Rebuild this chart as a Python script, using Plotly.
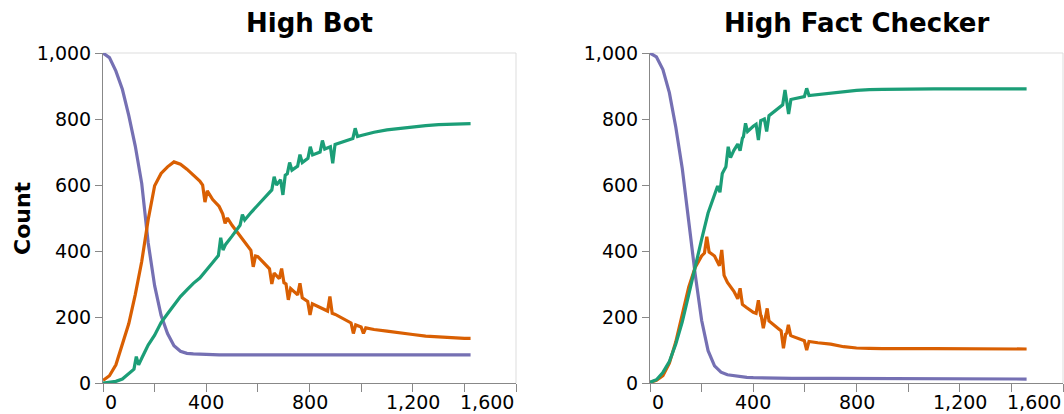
import plotly.graph_objects as go

# ---- High Bot run ----
bot_purple_t = [0, 25, 50, 75, 100, 125, 150, 175, 200, 225, 250, 275, 300, 325, 350, 375, 400,
                450, 500, 600, 700, 800, 900, 1000, 1100, 1200, 1300, 1424]
bot_purple = [1000, 986, 945, 890, 810, 718, 605, 425, 295, 205, 150, 113, 96, 90, 88, 87, 86,
              85, 85, 85, 85, 85, 85, 85, 85, 85, 85, 85]

bot_orange_t = [0, 25, 50, 75, 100, 125, 150, 175, 200, 225, 250, 275, 300, 325, 350, 375,
                386, 395, 404, 425, 450, 464, 473, 482, 500, 550, 573, 582, 591, 600, 645,
                654, 663, 683, 692, 701, 709, 718, 727, 750, 754, 763, 772, 793, 802, 811,
                850, 870, 879, 888, 900, 950, 961, 970, 979, 1000, 1009, 1018, 1050,
                1100, 1150, 1200, 1250, 1300, 1350, 1400, 1424]
bot_orange = [8, 22, 55, 118, 180, 268, 368, 495, 598, 635, 655, 670, 663, 648, 630, 612,
              600, 548, 582, 556, 535, 512, 484, 500, 478, 428, 402, 352, 385, 383, 346,
              300, 333, 316, 347, 304, 300, 252, 286, 270, 267, 302, 258, 247, 206, 240,
              225, 218, 262, 211, 208, 185, 182, 150, 176, 170, 150, 167, 162,
              157, 153, 147, 142, 139, 137, 135, 135]

bot_green_t = [0, 25, 50, 75, 100, 120, 129, 138, 150, 175, 200, 225, 250, 275, 300, 325,
               350, 375, 400, 425, 447, 456, 465, 475, 500, 531, 540, 549, 575, 600, 650,
               654, 663, 672, 688, 697, 706, 714, 723, 732, 750, 754, 763, 772, 794, 803,
               812, 841, 850, 859, 881, 890, 899, 950, 968, 977, 986, 1000, 1050, 1100,
               1150, 1200, 1250, 1300, 1350, 1400, 1424]
bot_green = [0, 2, 5, 12, 28, 42, 80, 55, 75, 115, 145, 183, 210, 235, 262, 282,
             302, 318, 340, 365, 386, 440, 403, 420, 445, 478, 510, 494, 518, 540, 582,
             585, 625, 600, 616, 570, 630, 634, 668, 645, 655, 657, 692, 668, 681, 716,
             691, 700, 735, 709, 716, 666, 723, 738, 741, 772, 747, 750, 760, 767,
             772, 777, 780, 783, 785, 786, 786]

# ---- High Fact Checker run ----
fc_purple_t = [0, 25, 50, 75, 100, 125, 150, 175, 200, 225, 250, 275, 300, 325, 350, 375, 400,
               450, 550, 700, 900, 1100, 1300, 1459]
fc_purple = [1000, 988, 950, 880, 775, 650, 490, 330, 190, 98, 52, 33, 25, 22, 19, 17, 16,
             15, 14, 14, 13, 13, 12, 12]

fc_orange_t = [0, 25, 50, 75, 100, 125, 150, 175, 200, 211, 220, 229, 250, 269, 278, 287,
               300, 325, 340, 349, 358, 375, 400, 411, 420, 429, 431, 439, 446, 447, 454,
               461, 475, 500, 508, 517, 526, 529, 536, 545, 550, 598, 607, 616, 650, 700,
               750, 800, 850, 900, 1100, 1300, 1459]
fc_orange = [2, 8, 22, 60, 125, 205, 290, 350, 385, 394, 443, 397, 385, 355, 403, 326,
             305, 278, 255, 287, 238, 228, 214, 211, 251, 204, 203, 166, 196, 195, 226,
             188, 178, 163, 158, 105, 151, 148, 176, 144, 142, 128, 100, 126, 122, 118,
             110, 106, 105, 104, 104, 103, 103]

fc_green_t = [0, 25, 50, 75, 100, 125, 150, 175, 200, 225, 250, 262, 271, 280, 294, 303,
              312, 325, 340, 349, 358, 362, 370, 378, 400, 411, 420, 429, 443, 452, 461,
              475, 500, 514, 523, 529, 530, 537, 546, 550, 598, 607, 616, 650, 700, 750,
              800, 850, 900, 1100, 1300, 1459]
fc_green = [2, 10, 32, 65, 118, 185, 268, 355, 435, 515, 575, 597, 578, 635, 655, 716,
            683, 705, 724, 704, 742, 746, 787, 762, 778, 784, 736, 795, 800, 762, 810,
            818, 832, 843, 888, 851, 852, 815, 859, 860, 868, 893, 871, 874, 877, 883,
            887, 889, 890, 891, 891, 891]

x_ticks = [0, 200, 400, 600, 800, 1000, 1200, 1400, 1600]
x_labels = ["0", "400", "800", "1,200", "1,600"]
y_ticks = [0, 200, 400, 600, 800, 1000]
y_labels = ["0", "200", "400", "600", "800", "1,000"]

PURPLE, ORANGE, GREEN = "#7570b3", "#d95f02", "#1b9e77"
FONT = "DejaVu Sans"
W, H = 1064, 414

panels = [
    ("High Bot", (bot_purple_t, bot_purple), (bot_orange_t, bot_orange),
     (bot_green_t, bot_green), 103, 516),
    ("High Fact Checker", (fc_purple_t, fc_purple), (fc_orange_t, fc_orange),
     (fc_green_t, fc_green), 650, 1063),
]
top_px, bot_px = 53, 383

fig = go.Figure()
for i, (title, p, o, g, left, right) in enumerate(panels):
    sfx = "" if i == 0 else "2"
    for (t, vals), col in ((p, PURPLE), (o, ORANGE), (g, GREEN)):
        fig.add_trace(go.Scatter(x=t, y=vals, mode="lines", xaxis="x" + sfx, yaxis="y" + sfx,
                                 line=dict(color=col, width=3.2), showlegend=False,
                                 hoverinfo="skip"))

layout = dict(width=W, height=H, margin=dict(l=0, r=0, t=0, b=0),
              paper_bgcolor="white", plot_bgcolor="white", showlegend=False,
              font=dict(family=FONT, size=19, color="#000"))
ydom = [(H - bot_px) / H, (H - top_px) / H]
annotations = []
shapes = []
for i, (title, p, o, g, left, right) in enumerate(panels):
    sfx = "" if i == 0 else "2"
    layout["xaxis" + sfx] = dict(domain=[left / W, right / W], range=[0, 1600],
                                 tickvals=x_ticks, showticklabels=False, ticks="outside",
                                 ticklen=8, tickcolor="#888", showline=True, linecolor="#888",
                                 linewidth=1, showgrid=False, zeroline=False,
                                 anchor="y" + sfx, automargin=False, fixedrange=True)
    layout["yaxis" + sfx] = dict(domain=ydom, range=[0, 1000], tickvals=y_ticks,
                                 ticktext=y_labels, ticks="outside", ticklen=7,
                                 tickcolor="#888", showline=True, linecolor="#888",
                                 linewidth=1, showgrid=False, zeroline=False,
                                 anchor="x" + sfx, tickfont=dict(size=19, color="#000"),
                                 automargin=False, fixedrange=True)
    # view border on top and right
    shapes.append(dict(type="line", xref="paper", yref="paper", x0=left / W, x1=right / W,
                       y0=ydom[1], y1=ydom[1], line=dict(color="#ddd", width=1), layer="below"))
    shapes.append(dict(type="line", xref="paper", yref="paper", x0=right / W, x1=right / W,
                       y0=ydom[0], y1=ydom[1], line=dict(color="#ddd", width=1), layer="below"))
    # panel title
    annotations.append(dict(text=f"<b>{title}</b>", xref="paper", yref="paper",
                            x=(left + right) / 2 / W, y=(H - 22.5) / H, xanchor="center",
                            yanchor="middle", showarrow=False,
                            font=dict(family=FONT, size=26, color="#000")))
    # x tick labels: first flush left, last flush right
    for k, lab in enumerate(x_labels):
        val = k * 400
        anchor = "left" if k == 0 else ("right" if k == len(x_labels) - 1 else "center")
        annotations.append(dict(text=lab, xref="x" + sfx, yref="paper", x=val,
                                y=(H - 402) / H, xanchor=anchor, yanchor="middle",
                                showarrow=False, font=dict(family=FONT, size=19, color="#000")))

annotations.append(dict(text="<b>Count</b>", xref="paper", yref="paper", x=22 / W,
                        y=(H - 218) / H, xanchor="center", yanchor="middle", textangle=-90,
                        showarrow=False, font=dict(family=FONT, size=22, color="#000")))
layout["annotations"] = annotations
layout["shapes"] = shapes
fig.update_layout(**layout)
fig.write_html("out.html")
